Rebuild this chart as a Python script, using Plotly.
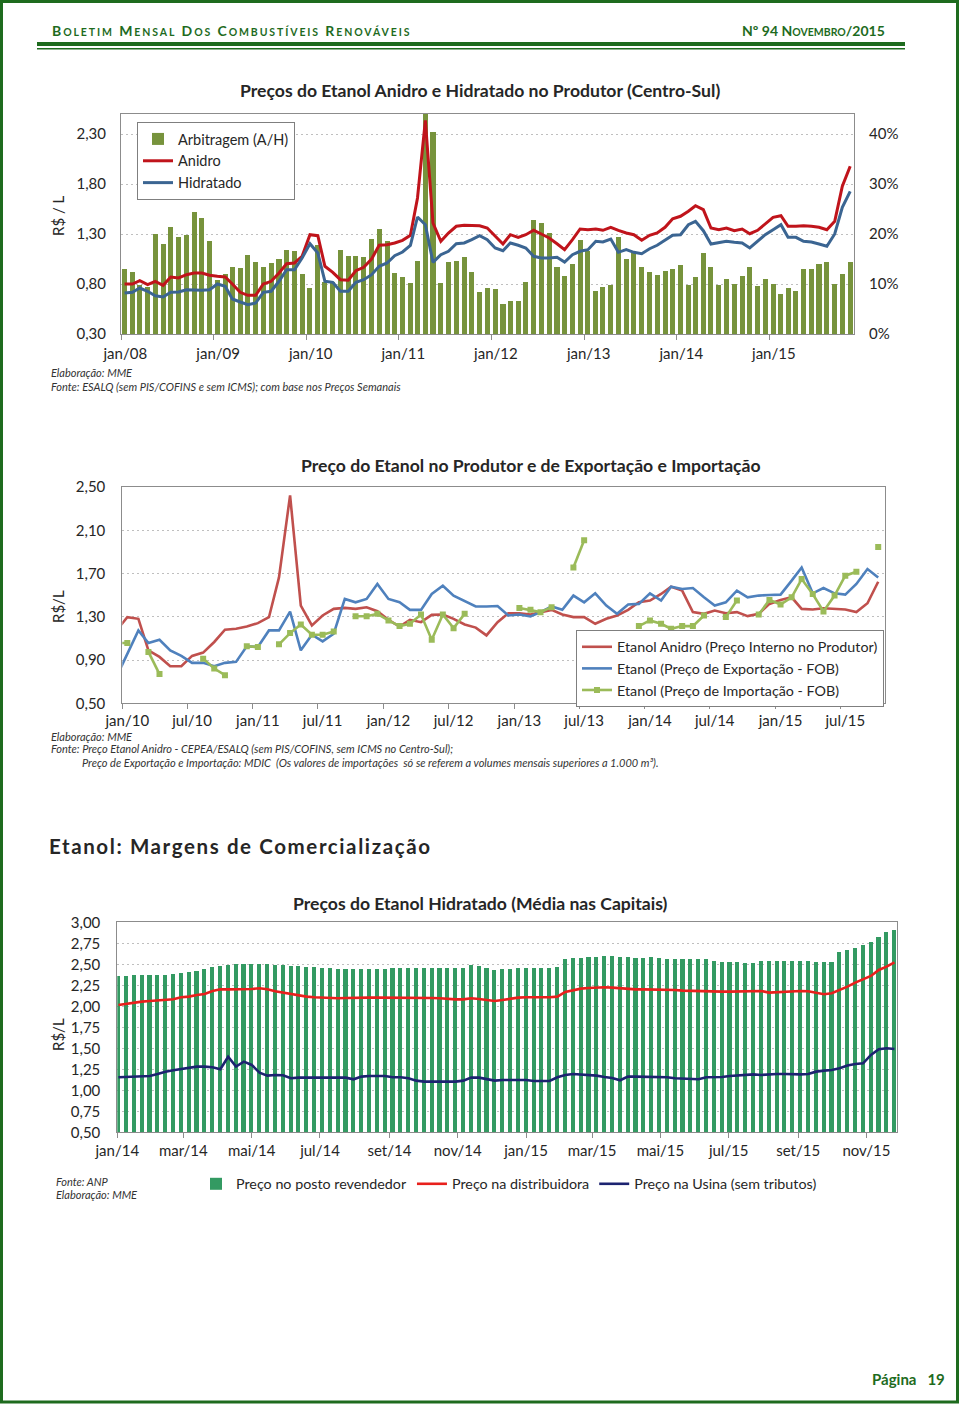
import plotly.graph_objects as go
import pandas as pd

W, H = 960, 1409


def px(x):
    return x / W


def py(y):
    return 1 - y / H


FONT = "Lato, 'Open Sans', Arial, sans-serif"
GREEN_DARK = "#1E6B1E"
TXT = "#262626"
FRAME = "#8C8C8C"
GRID = "#BFBFBF"

# ---------------- Chart 1: Anidro x Hidratado (monthly, jan/08 - nov/15) -------------
arbitragem = [  # % (right axis)
    13.0, 12.4, 9.9, 9.5, 20.1, 18.0, 21.5, 19.4, 19.9, 24.4, 23.3, 18.7,
    10.9, 12.0, 13.5, 13.3, 15.8, 14.5, 13.5, 14.3, 15.1, 16.8, 16.7, 12.1,
    9.3, 17.9, 10.5, 10.5, 16.8, 15.7, 15.7, 15.5, 19.0, 21.0, 18.6, 12.2,
    11.5, 10.3, 14.7, 45.0, 40.5, 10.2, 14.5, 14.7, 15.4, 12.4, 8.5, 9.2,
    9.0, 6.1, 6.7, 6.7, 10.5, 22.9, 22.2, 20.2, 13.5, 11.7, 14.1, 18.9,
    16.7, 8.7, 9.4, 9.9, 19.5, 15.1, 16.5, 13.4, 12.4, 11.9, 12.7, 13.0,
    13.9, 9.9, 11.4, 16.2, 13.5, 9.9, 11.0, 10.0, 11.7, 13.4, 9.7, 11.1,
    10.1, 8.0, 9.2, 8.7, 13.1, 13.1, 14.1, 14.5, 10.0, 12.1, 14.4,
]
anidro = [
    0.80, 0.80, 0.833, 0.793, 0.827, 0.787, 0.87, 0.86, 0.893, 0.91, 0.91, 0.887,
    0.877, 0.87, 0.80, 0.717, 0.687, 0.687, 0.80, 0.827, 0.91, 1.003, 1.01, 1.077,
    1.293, 1.283, 0.977, 0.917, 0.843, 0.837, 0.933, 0.967, 1.05, 1.187, 1.193, 1.21,
    1.237, 1.287, 1.66, 2.437, 1.41, 1.227, 1.31, 1.377, 1.387, 1.387, 1.383, 1.36,
    1.277, 1.20, 1.293, 1.267, 1.293, 1.337, 1.30, 1.26, 1.203, 1.143, 1.243, 1.35,
    1.343, 1.35, 1.337, 1.367, 1.337, 1.31, 1.293, 1.237, 1.287, 1.31, 1.367, 1.453,
    1.477, 1.527, 1.583, 1.543, 1.36, 1.343, 1.36, 1.333, 1.35, 1.303, 1.337, 1.403,
    1.467, 1.483, 1.377, 1.377, 1.383, 1.377, 1.367, 1.343, 1.427, 1.777, 1.977,
]
hidratado = [
    0.71, 0.717, 0.76, 0.727, 0.683, 0.67, 0.717, 0.72, 0.743, 0.737, 0.737, 0.743,
    0.80, 0.777, 0.65, 0.62, 0.593, 0.61, 0.717, 0.727, 0.827, 0.943, 0.943, 1.06,
    1.203, 1.11, 0.827, 0.817, 0.727, 0.727, 0.817, 0.843, 0.893, 0.977, 1.01, 1.083,
    1.12, 1.187, 1.47, 1.393, 1.017, 1.093, 1.127, 1.203, 1.21, 1.243, 1.283, 1.243,
    1.16, 1.133, 1.21, 1.187, 1.16, 1.077, 1.06, 1.06, 1.067, 1.02, 1.093, 1.127,
    1.143, 1.227, 1.22, 1.25, 1.117, 1.143, 1.117, 1.103, 1.153, 1.187, 1.237, 1.287,
    1.293, 1.393, 1.427, 1.333, 1.20, 1.217, 1.227, 1.217, 1.21, 1.16, 1.227, 1.293,
    1.343, 1.393, 1.267, 1.267, 1.227, 1.22, 1.20, 1.177, 1.30, 1.567, 1.727,
]
ticks1 = ["jan/08", "jan/09", "jan/10", "jan/11", "jan/12", "jan/13", "jan/14", "jan/15"]
y1_left_ticks = [0.30, 0.80, 1.30, 1.80, 2.30]
y1_right_ticks = [0, 10, 20, 30, 40]
y1_right_labels = ["0%", "10%", "20%", "30%", "40%"]

# ---------------- Chart 2: Produtor x Exportação x Importação (dez/09 - out/15) ------
anidro_prod = [
    1.17,
    1.296, 1.281, 0.99, 0.929, 0.843, 0.843, 0.938, 0.969, 1.067, 1.18, 1.189, 1.21,
    1.241, 1.296, 1.664, 2.423, 1.404, 1.22, 1.312, 1.373, 1.382, 1.373, 1.388, 1.351,
    1.272, 1.21, 1.272, 1.25, 1.318, 1.321, 1.281, 1.229, 1.20, 1.128, 1.25, 1.333,
    1.333, 1.321, 1.343, 1.364, 1.321, 1.297, 1.297, 1.235, 1.281, 1.312, 1.364, 1.434,
    1.45, 1.511, 1.578, 1.542, 1.343, 1.327, 1.358, 1.333, 1.343, 1.306, 1.327, 1.419,
    1.456, 1.48, 1.373, 1.367, 1.379, 1.373, 1.367, 1.343, 1.425, 1.624,
]
exportacao = [
    0.74,
    0.95, 1.174, 1.057, 1.088, 0.99, 0.938, 0.874, 0.874, 0.843, 0.874, 0.883, 1.027,
    1.021, 1.174, 1.174, 1.348, 0.99, 1.134, 1.073, 1.143, 1.465, 1.434, 1.465, 1.603,
    1.465, 1.434, 1.364, 1.364, 1.511, 1.587, 1.495, 1.443, 1.395, 1.395, 1.40, 1.312,
    1.321, 1.303, 1.343, 1.395, 1.364, 1.496, 1.434, 1.517, 1.404, 1.327, 1.413, 1.419,
    1.517, 1.45, 1.578, 1.557, 1.566, 1.48, 1.404, 1.434, 1.542, 1.48, 1.496, 1.502,
    1.505, 1.634, 1.756, 1.517, 1.566, 1.517, 1.505, 1.603, 1.741, 1.664,
]
importacao = [
    1.057,
    1.057, None, 0.975, 0.77, None, None, None, 0.913, 0.822, 0.76, None, 1.027,
    1.021, None, 1.045, 1.149, 1.229, 1.134, 1.134, 1.164, None, 1.305, 1.305, 1.327,
    1.266, 1.214, 1.235, 1.321, 1.088, 1.321, 1.195, 1.327, None, None, None, None,
    1.382, 1.364, 1.343, 1.389, None, 1.756, 2.007, None, None, None, None, 1.214,
    1.266, 1.235, 1.189, 1.214, 1.214, 1.312, None, 1.297, 1.45, None, 1.321, 1.456,
    1.413, 1.48, 1.649, 1.511, 1.349, 1.496, 1.68, 1.716, None, 1.946,
]
ticks2 = ["jan/10", "jul/10", "jan/11", "jul/11", "jan/12", "jul/12",
          "jan/13", "jul/13", "jan/14", "jul/14", "jan/15", "jul/15"]
y2_ticks = [0.50, 0.90, 1.30, 1.70, 2.10, 2.50]

# ---------------- Chart 3: Hidratado nas capitais (weekly, jan/14 - nov/15) ---------
posto = [
    2.361, 2.361, 2.365, 2.365, 2.369, 2.369, 2.369, 2.377, 2.393, 2.401,
    2.421, 2.444, 2.464, 2.48, 2.492, 2.496, 2.496, 2.496, 2.496, 2.50,
    2.492, 2.492, 2.476, 2.476, 2.468, 2.46, 2.448, 2.448, 2.444, 2.444,
    2.444, 2.44, 2.44, 2.444, 2.444, 2.448, 2.448, 2.448, 2.448, 2.448,
    2.448, 2.452, 2.452, 2.452, 2.452, 2.484, 2.48, 2.452, 2.425, 2.444,
    2.437, 2.456, 2.456, 2.452, 2.452, 2.456, 2.464, 2.563, 2.575, 2.575,
    2.579, 2.579, 2.591, 2.591, 2.583, 2.579, 2.575, 2.571, 2.583, 2.567,
    2.56, 2.56, 2.56, 2.56, 2.556, 2.556, 2.532, 2.52, 2.52, 2.52,
    2.516, 2.516, 2.54, 2.532, 2.532, 2.532, 2.532, 2.532, 2.532, 2.52,
    2.524, 2.524, 2.639, 2.663, 2.69, 2.73, 2.762, 2.817, 2.877, 2.90,
]
distribuidora = [
    2.016, 2.032, 2.048, 2.056, 2.063, 2.071, 2.075, 2.083, 2.107, 2.115,
    2.135, 2.147, 2.183, 2.202, 2.202, 2.202, 2.202, 2.206, 2.214, 2.202,
    2.179, 2.163, 2.143, 2.127, 2.115, 2.107, 2.103, 2.095, 2.095, 2.099,
    2.103, 2.103, 2.103, 2.103, 2.103, 2.099, 2.099, 2.107, 2.103, 2.103,
    2.099, 2.095, 2.087, 2.083, 2.083, 2.095, 2.087, 2.075, 2.063, 2.075,
    2.091, 2.103, 2.107, 2.103, 2.107, 2.107, 2.115, 2.171, 2.194, 2.21,
    2.218, 2.226, 2.226, 2.222, 2.214, 2.202, 2.202, 2.202, 2.202, 2.202,
    2.202, 2.194, 2.187, 2.183, 2.183, 2.183, 2.179, 2.175, 2.175, 2.175,
    2.175, 2.175, 2.183, 2.163, 2.167, 2.175, 2.183, 2.183, 2.179, 2.163,
    2.143, 2.155, 2.194, 2.234, 2.282, 2.325, 2.361, 2.433, 2.472, 2.524,
]
usina = [
    1.155, 1.159, 1.163, 1.171, 1.171, 1.194, 1.222, 1.238, 1.254, 1.27,
    1.282, 1.282, 1.274, 1.25, 1.40, 1.282, 1.341, 1.302, 1.21, 1.175,
    1.183, 1.179, 1.143, 1.151, 1.151, 1.155, 1.155, 1.155, 1.155, 1.151,
    1.131, 1.163, 1.171, 1.171, 1.171, 1.155, 1.155, 1.143, 1.115, 1.103,
    1.103, 1.103, 1.103, 1.103, 1.115, 1.151, 1.151, 1.131, 1.115, 1.123,
    1.123, 1.123, 1.123, 1.111, 1.111, 1.111, 1.155, 1.183, 1.194, 1.19,
    1.183, 1.175, 1.159, 1.147, 1.119, 1.163, 1.163, 1.163, 1.163, 1.163,
    1.155, 1.143, 1.139, 1.139, 1.131, 1.155, 1.155, 1.159, 1.171, 1.175,
    1.183, 1.19, 1.183, 1.19, 1.194, 1.194, 1.19, 1.19, 1.194, 1.222,
    1.234, 1.242, 1.262, 1.294, 1.313, 1.321, 1.421, 1.488, 1.50, 1.492,
]
ticks3 = ["jan/14", "mar/14", "mai/14", "jul/14", "set/14", "nov/14",
          "jan/15", "mar/15", "mai/15", "jul/15", "set/15", "nov/15"]

# ---------------- x positions (categories on date axes) ----------------
DAY = 86400000
x1 = pd.date_range("2008-01-01", periods=len(anidro), freq="MS") + pd.Timedelta(days=14)
tp1 = pd.date_range("2008-01-01", periods=len(ticks1), freq="12MS") + pd.Timedelta(days=17)
x2 = pd.date_range("2009-12-01", periods=len(anidro_prod), freq="MS") + pd.Timedelta(days=14)
tp2 = pd.date_range("2010-01-01", periods=len(ticks2), freq="6MS") + pd.Timedelta(days=14)
x3 = pd.date_range("2014-01-02", periods=len(posto), freq="7D")
tp3 = pd.date_range("2014-01-01", periods=len(ticks3), freq="2MS")

fig = go.Figure()

# chart 1
fig.add_trace(go.Bar(x=x1, y=arbitragem, name="Arbitragem (A/H)", marker=dict(color="#77933C", line=dict(width=0)),
                     width=20 * DAY, xaxis="x", yaxis="y", legend="legend"))
fig.add_trace(go.Scatter(x=x1, y=anidro, name="Anidro", mode="lines", line=dict(color="#C0141B", width=3),
                         xaxis="x", yaxis="y2", legend="legend"))
fig.add_trace(go.Scatter(x=x1, y=hidratado, name="Hidratado", mode="lines", line=dict(color="#3B6592", width=3),
                         xaxis="x", yaxis="y2", legend="legend"))

# chart 2
fig.add_trace(go.Scatter(x=x2, y=anidro_prod, name="Etanol Anidro (Preço Interno no Produtor)", mode="lines",
                         line=dict(color="#C0504D", width=2.6), xaxis="x2", yaxis="y3", legend="legend2"))
fig.add_trace(go.Scatter(x=x2, y=exportacao, name="Etanol (Preço de Exportação - FOB)", mode="lines",
                         line=dict(color="#4F81BD", width=2.6), xaxis="x2", yaxis="y3", legend="legend2"))
fig.add_trace(go.Scatter(x=x2, y=importacao, name="Etanol (Preço de Importação - FOB)", mode="lines+markers",
                         line=dict(color="#9BBB59", width=2.6), marker=dict(symbol="square", size=6, color="#9BBB59"),
                         connectgaps=False, xaxis="x2", yaxis="y3", legend="legend2"))

# chart 3
fig.add_trace(go.Bar(x=x3, y=posto, name="Preço no posto revendedor", marker=dict(color="#339A62", line=dict(width=0)),
                     width=3.7 * DAY, xaxis="x3", yaxis="y4", legend="legend3"))
fig.add_trace(go.Scatter(x=x3, y=distribuidora, name="Preço na distribuidora", mode="lines",
                         line=dict(color="#E8201C", width=2.6), xaxis="x3", yaxis="y4", legend="legend3"))
fig.add_trace(go.Scatter(x=x3, y=usina, name="Preço na Usina (sem tributos)", mode="lines",
                         line=dict(color="#1C2370", width=2.6), xaxis="x3", yaxis="y4", legend="legend3"))

tickfont = dict(family=FONT, size=15, color=TXT)
common_frame = dict(showline=True, linecolor=FRAME, linewidth=1, mirror=True, zeroline=False, automargin=False)

layout = dict(
    width=W, height=H, margin=dict(l=0, r=0, t=0, b=0, pad=0, autoexpand=False),
    paper_bgcolor="white", plot_bgcolor="white",
    separators=",.", font=dict(family=FONT, color=TXT),
    bargap=0,
    xaxis=dict(domain=[px(121), px(854)], anchor="y", type="date", range=["2008-01-01", "2015-11-30"],
               tickmode="array", tickvals=tp1, ticktext=ticks1, ticks="", showgrid=False,
               tickfont=tickfont, ticklabelstandoff=6,
               minor=dict(dtick="M12", tick0="2008-01-01", ticks="outside", ticklen=5, tickcolor=FRAME, showgrid=False),
               **common_frame),
    yaxis=dict(domain=[py(334), py(114)], anchor="x", side="right", range=[0, 44], tickmode="array",
               tickvals=y1_right_ticks, ticktext=y1_right_labels, showgrid=False, ticks="", tickfont=tickfont,
               ticklabelstandoff=11, **common_frame),
    yaxis2=dict(overlaying="y", anchor="x", side="left", range=[0.30, 2.50], tickmode="array",
                tickvals=y1_left_ticks, tickformat=".2f", showgrid=True, gridcolor=GRID, griddash="2px,3px",
                zeroline=False, showline=False, ticks="", tickfont=tickfont, ticklabelstandoff=14, automargin=False),
    xaxis2=dict(domain=[px(122.3), px(885)], anchor="y3", type="date", range=["2010-01-01", "2015-11-03"],
                tickmode="array", tickvals=tp2, ticktext=ticks2, ticks="", showgrid=False,
                tickfont=tickfont, ticklabelstandoff=4,
                minor=dict(dtick="M6", tick0="2010-01-01", ticks="outside", ticklen=5, tickcolor=FRAME, showgrid=False),
                **common_frame),
    yaxis3=dict(domain=[py(703.3), py(487)], anchor="x2", range=[0.50, 2.50], tickmode="array",
                tickvals=y2_ticks, tickformat=".2f", showgrid=True, gridcolor=GRID, griddash="2px,3px",
                ticks="", tickfont=tickfont, ticklabelstandoff=13, **common_frame),
    xaxis3=dict(domain=[px(117.3), px(896.7)], anchor="y4", type="date", range=["2014-01-01", "2015-11-28"],
                tickmode="array", tickvals=tp3, ticktext=ticks3, ticks="outside", ticklen=5, tickcolor=FRAME,
                showgrid=False, tickfont=tickfont, ticklabelstandoff=0, **common_frame),
    yaxis4=dict(domain=[py(1132.3), py(922.3)], anchor="x3", range=[0.50, 3.00], dtick=0.25, tick0=0.5,
                tickformat=".2f", showgrid=True, gridcolor=GRID, griddash="2px,3px",
                ticks="", tickfont=tickfont, ticklabelstandoff=13, **common_frame),
    legend=dict(x=px(137), y=py(122), xanchor="left", yanchor="top", bgcolor="white", bordercolor="#7F7F7F",
                borderwidth=1, font=dict(family=FONT, size=14.5, color=TXT), tracegroupgap=0, itemwidth=30),
    legend2=dict(x=px(884), y=py(630), xanchor="right", yanchor="top", bgcolor="white", bordercolor="#7F7F7F",
                 borderwidth=1, font=dict(family=FONT, size=14.3, color=TXT), tracegroupgap=0, itemwidth=30),
    legend3=dict(x=px(509), y=py(1184), xanchor="center", yanchor="middle", orientation="h", bgcolor="rgba(0,0,0,0)",
                 borderwidth=0, font=dict(family=FONT, size=14.3, color=TXT), itemwidth=30),
    showlegend=True,
)
fig.update_layout(**layout)

anns = []


def ann(text, x, y, size=15, color=TXT, xanchor="left", yanchor="middle", angle=0):
    anns.append(dict(text=text, x=px(x), y=py(y), xref="paper", yref="paper", xanchor=xanchor, yanchor=yanchor,
                     showarrow=False, textangle=angle, font=dict(family=FONT, size=size, color=color)))


def sc(word, small=10.5):
    return word[0] + f"<span style='font-size:{small}px'>{word[1:].upper()}</span>"


header_left = " ".join(sc(w) for w in ["Boletim", "Mensal", "Dos", "Combustíveis", "Renováveis"])
ann(f"<b><span style='letter-spacing:1.9px'>{header_left}</span></b>", 50, 31, size=14, color=GREEN_DARK)
ann(f"<b>Nº 94 {sc('Novembro')}/2015</b>", 887, 31, size=14, color=GREEN_DARK, xanchor="right")

# titles
ann("<b>Preços do Etanol Anidro e Hidratado no Produtor (Centro-Sul)</b>", 480, 91, size=17.6, xanchor="center")
ann("<b>Preço do Etanol no Produtor e de Exportação e Importação</b>", 531, 466, size=17.6, xanchor="center")
ann("<b><span style='letter-spacing:1.6px'>Etanol: Margens de Comercialização</span></b>", 47, 846, size=20.5)
ann("<b>Preços do Etanol Hidratado (Média nas Capitais)</b>", 480, 903, size=17.6, xanchor="center")

# axis titles
ann("R$ / L", 58, 216, size=15, xanchor="center", angle=-90)
ann("R$/L", 58, 607, size=15, xanchor="center", angle=-90)
ann("R$/L", 58, 1035, size=15, xanchor="center", angle=-90)

# notes
NOTE = "#333333"
ann("<i>Elaboração: MME</i>", 49, 372, size=11, color=NOTE)
ann("<i>Fonte: ESALQ (sem PIS/COFINS e sem ICMS); com base nos Preços Semanais</i>", 49, 386, size=11, color=NOTE)
ann("<i>Elaboração: MME</i>", 49, 736, size=11, color=NOTE)
ann("<i>Fonte: Preço Etanol Anidro - CEPEA/ESALQ (sem PIS/COFINS, sem ICMS no Centro-Sul);</i>", 49, 749, size=11,
    color=NOTE)
ann("<i>Preço de Exportação e Importação: MDIC  (Os valores de importações  só se referem a volumes mensais "
    "superiores a 1.000 m³).</i>", 80, 763, size=11, color=NOTE)
ann("<i>Fonte: ANP</i>", 54, 1181, size=11, color=NOTE)
ann("<i>Elaboração: MME</i>", 54, 1194, size=11, color=NOTE)

# footer
ann("<b>Página   19</b>", 947, 1379, size=15, color=GREEN_DARK, xanchor="right")

shapes = [
    dict(type="rect", xref="paper", yref="paper", x0=px(1.5), x1=px(957.5), y0=py(1402), y1=py(1.5),
         line=dict(color=GREEN_DARK, width=3)),
    dict(type="line", xref="paper", yref="paper", x0=px(37), x1=px(905), y0=py(44), y1=py(44),
         line=dict(color=GREEN_DARK, width=4)),
    dict(type="line", xref="paper", yref="paper", x0=px(37), x1=px(905), y0=py(48.7), y1=py(48.7),
         line=dict(color=GREEN_DARK, width=1.5)),
]

fig.update_layout(annotations=anns, shapes=shapes)
fig.write_html("out.html", config={"displayModeBar": False},
               post_script="document.body.style.margin='0';")
